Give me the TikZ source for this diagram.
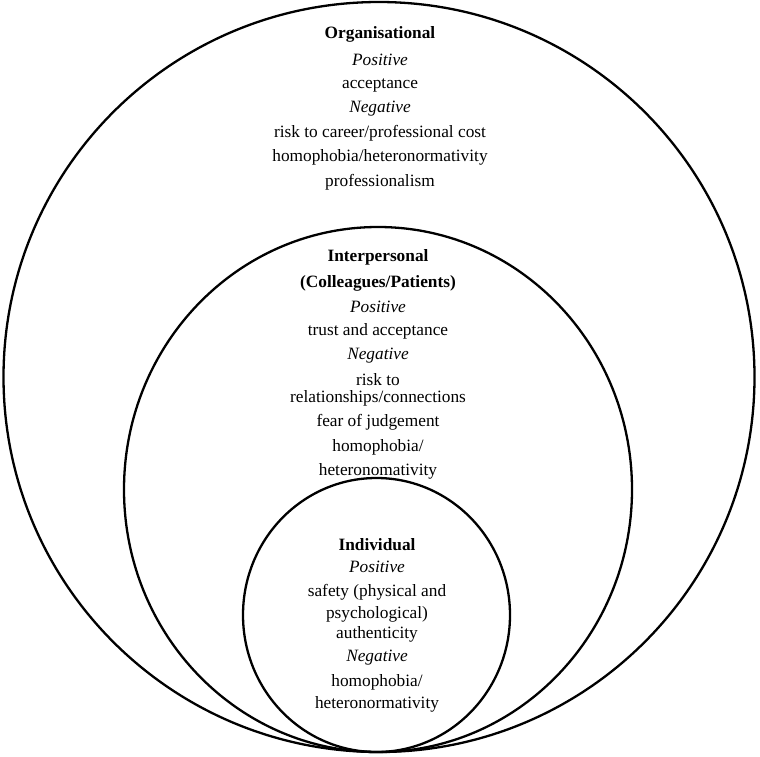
\documentclass[tikz,border=0pt]{standalone}
\usepackage{fontspec}
\setmainfont{Liberation Serif}
\begin{document}
\begin{tikzpicture}[x=1pt,y=-1pt,
  ring/.style={draw=black,line width=2.3pt},
  txt/.style={inner sep=0pt,anchor=center,font=\fontsize{17.3}{19}\selectfont},
  head/.style={txt,font=\fontsize{17.3}{19}\selectfont\bfseries},
  sub/.style={txt,font=\fontsize{17.3}{19}\selectfont\itshape}]
\useasboundingbox (0,0) rectangle (760,756);
% nested levels, all touching at the bottom
\draw[ring] (379,377) ellipse [x radius=375.5,y radius=375];
\draw[ring] (378,489.5) ellipse [x radius=254,y radius=262.5];
\draw[ring] (376.5,615) ellipse [x radius=133.5,y radius=137];
% organisational level
\node[head] (o1) at (380,34) {Organisational};
\node[sub]  (o2) at (380,60) {Positive};
\node[txt]  (o3) at (380,85) {acceptance};
\node[sub]  (o4) at (380,109) {Negative};
\node[txt]  (o5) at (380,133) {risk to career/professional cost};
\node[txt]  (o6) at (380,157) {homophobia/heteronormativity};
\node[txt]  (o7) at (380,182) {professionalism};
% interpersonal level
\node[head] (p1) at (378,257) {Interpersonal};
\node[head] (p2) at (378,283) {(Colleagues/Patients)};
\node[sub]  (p3) at (378,307) {Positive};
\node[txt]  (p4) at (378,331) {trust and acceptance};
\node[sub]  (p5) at (378,356) {Negative};
\node[txt]  (p6) at (378,380) {risk to};
\node[txt]  (p7) at (378,398) {relationships/connections};
\node[txt]  (p8) at (378,422) {fear of judgement};
\node[txt]  (p9) at (378,447) {homophobia/};
\node[txt]  (p10) at (378,471) {heteronomativity};
% individual level
\node[head] (i1) at (377,545) {Individual};
\node[sub]  (i2) at (377,567) {Positive};
\node[txt]  (i3) at (377,592) {safety (physical and};
\node[txt]  (i4) at (377,614) {psychological)};
\node[txt]  (i5) at (377,634) {authenticity};
\node[sub]  (i6) at (377,658) {Negative};
\node[txt]  (i7) at (377,682) {homophobia/};
\node[txt]  (i8) at (377,704) {heteronormativity};
\end{tikzpicture}
\end{document}
